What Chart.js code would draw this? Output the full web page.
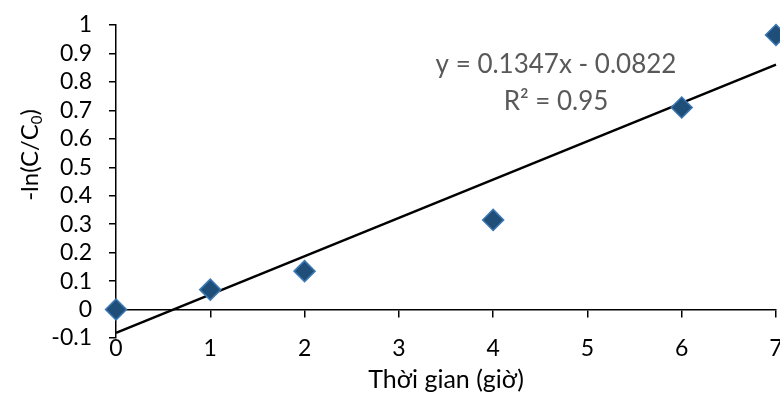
<!DOCTYPE html>
<html>
<head>
<meta charset="utf-8">
<script src="https://cdn.jsdelivr.net/npm/chart.js@4"></script>
<style>
  html, body { margin: 0; padding: 0; background: #fff; }
  #wrap { width: 780px; height: 397px; }
</style>
</head>
<body>
<div id="wrap"><canvas id="myChart"></canvas></div>
<script>
// measured points
var hours = [0, 1, 2, 4, 6, 7];
var lnValues = [0, 0.07, 0.135, 0.315, 0.71, 0.965];
// linear trendline y = 0.1347x - 0.0822 at the ends
var trendX = [0, 7];
var trendY = [-0.0822, 0.8607];
var eqLines = ['y = 0.1347x - 0.0822', 'R² = 0.95'];
var xTitle = 'Thời gian (giờ)';

var FONT = 'Lato';

var textPlugin = {
    id: 'textPlugin',
    afterDraw: function(chart) {
        var ctx = chart.ctx;
        ctx.save();
        // equation box
        ctx.fillStyle = '#595959';
        ctx.font = '26px ' + FONT;
        ctx.textAlign = 'center';
        ctx.textBaseline = 'middle';
        ctx.fillText(eqLines[0], 556, 65);
        ctx.fillText(eqLines[1], 556, 102);

        // y axis title with subscript
        ctx.translate(30, 155);
        ctx.rotate(-Math.PI / 2);
        ctx.fillStyle = '#000';
        ctx.textBaseline = 'middle';
        ctx.textAlign = 'left';
        var a = '-ln(C/C', s = '0', b = ')';
        ctx.font = '24px ' + FONT;
        var wa = ctx.measureText(a).width;
        var wb = ctx.measureText(b).width;
        ctx.font = '15px ' + FONT;
        var ws = ctx.measureText(s).width;
        var x0 = -(wa + ws + wb) / 2;
        ctx.font = '24px ' + FONT;
        ctx.fillText(a, x0, 0);
        ctx.font = '15px ' + FONT;
        ctx.fillText(s, x0 + wa, 7);
        ctx.font = '24px ' + FONT;
        ctx.fillText(b, x0 + wa + ws, 0);
        ctx.restore();
    }
};

var pts = hours.map(function(h, i) { return {x: h, y: lnValues[i]}; });
var trend = trendX.map(function(h, i) { return {x: h, y: trendY[i]}; });

function noSidePad(s) {
    s.paddingLeft = 0;
    s.paddingRight = 0;
}

new Chart('myChart', {
    type: 'scatter',
    data: {
        datasets: [{
            type: 'line',
            data: trend,
            borderColor: '#000',
            borderWidth: 2.5,
            pointRadius: 0,
            fill: false,
            clip: false,
            order: 2
        }, {
            data: pts,
            pointStyle: 'rectRot',
            pointRadius: 10.5,
            pointHoverRadius: 10.5,
            backgroundColor: '#1F4E79',
            borderColor: '#3C78B4',
            borderWidth: 1.5,
            clip: false,
            order: 1
        }]
    },
    options: {
        responsive: true,
        maintainAspectRatio: false,
        animation: false,
        layout: { autoPadding: false, padding: { top: 25, right: 4, left: 0, bottom: 0 } },
        plugins: { legend: { display: false }, tooltip: { enabled: false } },
        scales: {
            x: {
                type: 'linear',
                position: 'bottom',
                min: 0, max: 7,
                grid: { display: false, drawTicks: false },
                border: { display: false },
                ticks: {
                    stepSize: 1,
                    padding: -3,
                    autoSkip: false,
                    maxRotation: 0,
                    color: '#000',
                    font: { family: FONT, size: 23 }
                },
                title: {
                    display: true,
                    text: xTitle,
                    color: '#000',
                    font: { family: FONT, size: 25 },
                    padding: { top: 0, bottom: 2 }
                },
                afterFit: function(s) { s.height = 59; noSidePad(s); }
            },
            x2: {
                type: 'linear',
                axis: 'x',
                position: { y: 0 },
                min: 0, max: 7,
                grid: { drawOnChartArea: false, drawTicks: true, tickLength: 7, color: '#000', lineWidth: 1.5 },
                border: { display: true, color: '#000', width: 1.5 },
                ticks: { stepSize: 1, display: false },
                afterFit: noSidePad
            },
            y: {
                min: -0.1, max: 1,
                grid: { drawOnChartArea: false, drawTicks: true, tickLength: 7, color: '#000', lineWidth: 1.5 },
                border: { display: true, color: '#000', width: 1.5 },
                ticks: {
                    stepSize: 0.1,
                    autoSkip: false,
                    padding: 17,
                    color: '#000',
                    font: { family: FONT, size: 23 },
                    callback: function(v) { return String(Math.round(v * 10) / 10); }
                },
                afterFit: function(s) { s.width = 116; s.paddingTop = 0; s.paddingBottom = 0; }
            }
        }
    },
    plugins: [textPlugin]
});
</script>
</body>
</html>
